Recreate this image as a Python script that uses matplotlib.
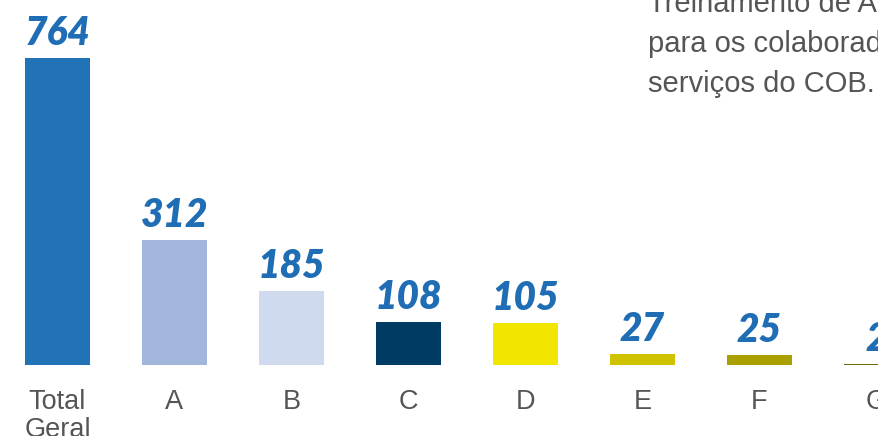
import matplotlib
matplotlib.use("Agg")
import matplotlib.pyplot as plt

categories = ["Total\nGeral", "A", "B", "C", "D", "E", "F", "G"]
values = [764, 312, 185, 108, 105, 27, 25, 2]
colors = ["#2272b7", "#a2b5dc", "#d0daee", "#003b63", "#f2e500", "#cfc300", "#a9a000", "#706a00"]
note_lines = ["Treinamento de A", "para os colaborad", "serviços do COB."]

W, H = 879, 436
fig = plt.figure(figsize=(W / 100, H / 100), dpi=100)
ax = fig.add_axes([0, 71 / H, 1, 365 / H])
ax.set_xlim(-0.4915, 7.0214)
ax.set_ylim(0, 908.3)
ax.axis("off")

x = list(range(len(categories)))
ax.bar(x, values, width=0.5556, color=colors)

for i, (c, v) in enumerate(zip(categories, values)):
    ax.annotate(str(v), (i, v), xytext=(0, 13), textcoords="offset pixels",
                ha="center", va="baseline", fontsize=28, fontweight="heavy",
                fontstyle="italic", family="Lato", color="#1f6db4",
                annotation_clip=False)
    ax.annotate(c, (i, 0), xytext=(0, -24), textcoords="offset pixels",
                ha="center", va="top", fontsize=19.5, family="Liberation Sans",
                color="#555555", linespacing=1.08, annotation_clip=False)

for k, line in enumerate(note_lines):
    fig.text(648 / W, 1 - (12 + 40 * k) / H, line, ha="left", va="baseline",
             fontsize=21, family="Liberation Sans", color="#555555")

fig.savefig("out.png", dpi=100)
